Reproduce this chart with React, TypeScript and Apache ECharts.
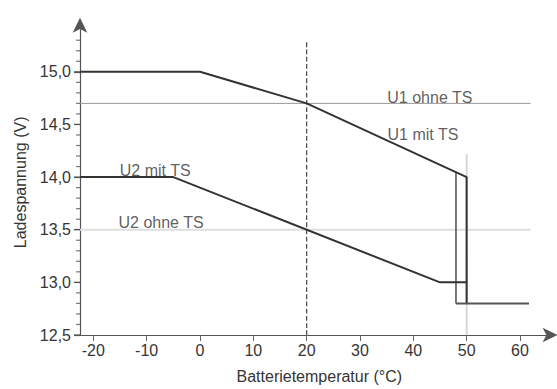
import React, { useEffect, useRef } from "react";
import * as echarts from "echarts";

const X_MIN = -22.5;
const X_MAX = 65;
const Y_MIN = 12.5;
const Y_MAX = 15.4;

const xTicks = [-20, -10, 0, 10, 20, 30, 40, 50, 60];
const yTicks = [12.5, 13.0, 13.5, 14.0, 14.5, 15.0];
const yMinorTicks = [12.6, 12.7, 12.8, 12.9, 13.1, 13.2, 13.3, 13.4, 13.6, 13.7, 13.8, 13.9, 14.1, 14.2, 14.3, 14.4, 14.6, 14.7, 14.8, 14.9, 15.1, 15.2, 15.3];

const u1Mit: [number, number][] = [[-22.5, 15.0], [0, 15.0], [20, 14.7], [50, 14.0], [50, 12.8]];
const u2Mit: [number, number][] = [[-22.5, 14.0], [-5, 14.0], [45, 13.0], [50, 13.0]];
const u1Ohne: [number, number][] = [[-22.5, 14.7], [62, 14.7]];
const u2Ohne: [number, number][] = [[-22.5, 13.5], [62, 13.5]];
const cutoffVertical: [number, number][] = [[48, 14.05], [48, 12.8]];
const cutoffFlat: [number, number][] = [[48, 12.8], [61.7, 12.8]];
const ref50: [number, number][] = [[50, 14.22], [50, 12.5]];
const ref20: [number, number][] = [[20, 15.28], [20, 12.5]];

const labelPoints: [number, number, string][] = [
  [43.1, 14.76, "U1 ohne TS"],
  [41.8, 14.4, "U1 mit TS"],
  [-8.4, 14.06, "U2 mit TS"],
  [-7.3, 13.57, "U2 ohne TS"],
];

const FONT = "Liberation Sans, Arial, sans-serif";
const TXT = "#353535";
const FS = 16;

function line(name: string, data: [number, number][], color: string, width: number, type: string = "solid", z = 2) {
  return {
    name,
    type: "line",
    data,
    symbol: "none",
    silent: true,
    z,
    lineStyle: { color, width, type },
  };
}

export default function App() {
  const ref = useRef<HTMLDivElement>(null);
  useEffect(() => {
    if (!ref.current) return;
    const chart = echarts.init(ref.current, undefined, { renderer: "svg" });
    chart.setOption({
      animation: false,
      backgroundColor: "#ffffff",
      grid: { left: 80, top: 340 - (Y_MAX - Y_MIN) * 107, width: (X_MAX - X_MIN) * 5.333, height: (Y_MAX - Y_MIN) * 107 },
      xAxis: {
        type: "value",
        min: X_MIN,
        max: X_MAX,
        splitLine: { show: false },
        axisLine: { onZero: false, lineStyle: { color: "#555", width: 1.2 }, symbol: ["none", "arrow"], symbolSize: [11, 15], symbolOffset: [0, 11] },
        axisTick: { show: true, length: 6, lineStyle: { color: "#666" }, customValues: xTicks },
        axisLabel: { color: TXT, fontSize: FS, fontFamily: FONT, margin: 7, customValues: xTicks, formatter: (v: number) => String(v) },
        name: "Batterietemperatur (°C)",
        nameLocation: "middle",
        nameGap: 33,
        nameTextStyle: { color: TXT, fontSize: FS, fontFamily: FONT, padding: [0, 0, 0, 12] },
      },
      yAxis: {
        type: "value",
        min: Y_MIN,
        max: Y_MAX,
        splitLine: { show: false },
        axisLine: { onZero: false, lineStyle: { color: "#555", width: 1.2 }, symbol: ["none", "arrow"], symbolSize: [11, 15], symbolOffset: [0, 12] },
        axisTick: { show: true, length: 6, lineStyle: { color: "#555", width: 1.2 }, customValues: yTicks },
        axisLabel: { color: TXT, fontSize: FS, fontFamily: FONT, margin: 9, customValues: yTicks, formatter: (v: number) => v.toFixed(1).replace(".", ",") },
        name: "Ladespannung (V)",
        nameLocation: "middle",
        nameGap: 49,
        nameTextStyle: { color: TXT, fontSize: FS, fontFamily: FONT },
      },
      series: [
        line("U2 ohne TS", u2Ohne, "#dedede", 2, "solid", 1),
        line("ref50", ref50, "#d6d6d6", 2, "solid", 1),
        line("U1 ohne TS", u1Ohne, "#9a9a9a", 1, "solid", 1),
        line("ref20", ref20, "#444", 1.2, "dashed", 2),
        line("U1 mit TS", u1Mit, "#333", 2, "solid", 3),
        line("U2 mit TS", u2Mit, "#333", 2, "solid", 3),
        line("cutV", cutoffVertical, "#333", 1.3, "solid", 3),
        line("cutF", cutoffFlat, "#555", 2, "solid", 3),
        {
          type: "scatter",
          data: labelPoints,
          symbolSize: 0,
          silent: true,
          z: 5,
          label: {
            show: true,
            position: "inside",
            formatter: (p: any) => p.data[2],
            color: TXT,
            fontSize: FS,
            fontFamily: FONT,
          },
        },
      ],
    });
    const tickEls: any[] = [];
    const addTick = (v: number, len: number, color: string) => {
      const p = chart.convertToPixel({ gridIndex: 0 }, [X_MIN, v]) as number[];
      if (!p) return;
      tickEls.push({
        type: "line",
        silent: true,
        z: 100,
        shape: { x1: p[0] - len, y1: p[1], x2: p[0], y2: p[1] },
        style: { stroke: color, lineWidth: 1.2 },
      });
    };
    yTicks.forEach((v) => addTick(v, 6, "#555"));
    yMinorTicks.forEach((v) => addTick(v, 4, "#777"));
    chart.setOption({ graphic: tickEls });
    return () => chart.dispose();
  }, []);
  return <div ref={ref} style={{ position: "fixed", left: 0, top: 0, width: 557, height: 389 }} />;
}
